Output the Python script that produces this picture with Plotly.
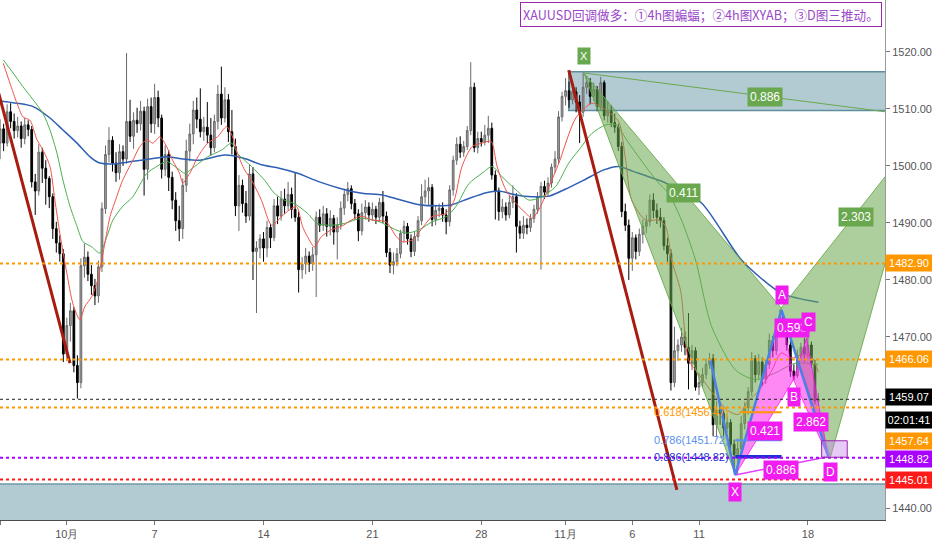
import plotly.graph_objects as go

# 4h bars per trading session (the Sunday evening session has one bar)
sessions = [
    ("09-26", 6), ("09-27", 6), ("09-29", 1), ("09-30", 6),
    ("10-01", 6), ("10-02", 6), ("10-03", 6), ("10-04", 6), ("10-06", 1),
    ("10-07", 6), ("10-08", 6), ("10-09", 6), ("10-10", 6), ("10-11", 6), ("10-13", 1),
    ("10-14", 6), ("10-15", 6), ("10-16", 6), ("10-17", 6), ("10-18", 6), ("10-20", 1),
    ("10-21", 6), ("10-22", 6), ("10-23", 6), ("10-24", 6), ("10-25", 6), ("10-27", 1),
    ("10-28", 6), ("10-29", 6), ("10-30", 6), ("10-31", 6), ("11-01", 6), ("11-03", 1),
    ("11-04", 6), ("11-05", 6), ("11-06", 6), ("11-07", 6), ("11-08", 6), ("11-10", 1),
    ("11-11", 6), ("11-12", 6), ("11-13", 6), ("11-14", 6), ("11-15", 6), ("11-17", 1),
    ("11-18", 4),
]

tick_days = ["09-26", "10-01", "10-07", "10-14", "10-21", "10-28", "11-01", "11-06", "11-11", "11-18"]
tick_text = ["26", "10月", "7", "14", "21", "28", "11月", "6", "11", "18"]

opens = [
    1504.0, 1506.5, 1504.0, 1509.5, 1507.8, 1506.2,
    1507.0, 1504.8, 1507.2, 1506.4, 1497.2, 1495.6,
    1502.4,
    1499.6, 1497.8, 1494.6, 1489.0, 1486.5, 1484.6,
    1467.0, 1472.0, 1474.6, 1465.0, 1462.0, 1482.5,
    1484.0, 1481.0, 1479.0, 1477.2, 1482.3, 1492.5,
    1502.0, 1504.5, 1500.5, 1498.8, 1502.5, 1501.2,
    1507.8, 1505.2, 1508.0, 1507.4, 1509.6, 1499.4,
    1510.4,
    1507.4, 1512.0, 1508.4, 1499.4, 1502.0, 1498.0,
    1494.0, 1490.4, 1489.0, 1496.6, 1502.6, 1505.6,
    1509.8, 1508.2, 1506.0, 1506.8, 1505.4, 1503.2,
    1507.8, 1512.6, 1508.4, 1511.6, 1506.0, 1503.4,
    1493.0, 1496.6, 1493.4, 1491.2, 1498.6, 1485.0,
    1485.6,
    1487.2, 1485.6, 1489.2, 1487.4, 1493.0, 1491.2,
    1494.2, 1493.0, 1495.0, 1492.4, 1491.0, 1481.8,
    1482.8, 1484.2, 1482.8, 1484.4, 1491.0, 1489.6,
    1491.6, 1489.4, 1490.8, 1488.4, 1489.6, 1492.6,
    1495.0, 1496.0, 1493.4, 1491.6, 1488.6, 1491.8,
    1492.8,
    1491.4, 1492.4, 1491.0, 1493.6, 1491.2, 1484.8,
    1482.6, 1483.2, 1484.6, 1488.2, 1489.4, 1487.2,
    1485.0, 1487.6, 1490.4, 1494.6, 1495.6, 1496.2,
    1490.6, 1492.2, 1492.6, 1491.4, 1490.2, 1495.8,
    1501.0, 1503.8, 1502.4, 1503.4, 1506.2, 1513.8,
    1503.2,
    1504.8, 1504.2, 1505.4, 1506.6, 1498.4, 1495.6,
    1492.0, 1492.8, 1491.4, 1493.6, 1494.6, 1489.4,
    1488.2, 1489.6, 1489.2, 1490.8, 1492.4, 1494.6,
    1496.4, 1495.4, 1497.0, 1499.8, 1501.2, 1508.6,
    1512.2, 1513.2, 1511.6, 1513.0, 1511.2, 1509.4,
    1513.8,
    1514.6, 1512.2, 1513.4, 1510.4, 1514.6, 1508.8,
    1509.6, 1507.6, 1506.8, 1503.4, 1492.0, 1489.6,
    1483.8, 1487.4, 1485.0, 1488.0, 1489.4, 1490.2,
    1494.0, 1492.2, 1491.0, 1490.4, 1486.0, 1484.6,
    1462.0, 1467.6, 1468.6, 1470.0, 1468.2, 1465.4,
    1467.6,
    1461.2, 1462.0, 1463.4, 1465.2, 1466.2, 1454.6,
    1457.2, 1456.6, 1454.0, 1455.0, 1451.2, 1449.4,
    1450.4, 1454.8, 1457.6, 1460.4, 1466.2, 1463.4,
    1465.6, 1462.6, 1465.2, 1469.4, 1467.6, 1472.2,
    1473.6, 1471.0, 1468.6, 1464.0, 1463.2, 1466.8,
    1468.2,
    1467.0, 1468.6, 1465.2, 1458.8,
]

highs = [
    1508.2, 1507.4, 1510.8, 1511.0, 1509.2, 1508.6,
    1507.8, 1508.4, 1508.0, 1507.0, 1498.6, 1503.8,
    1503.2,
    1501.0, 1498.2, 1495.2, 1490.2, 1487.8, 1485.4,
    1473.4, 1476.0, 1475.2, 1466.8, 1483.8, 1486.4,
    1485.0, 1482.6, 1480.2, 1483.4, 1493.6, 1503.6,
    1506.8, 1505.2, 1502.4, 1503.8, 1503.6, 1519.8,
    1511.6, 1509.4, 1510.2, 1511.4, 1510.4, 1511.8,
    1512.0,
    1514.4, 1513.2, 1509.0, 1503.6, 1502.8, 1499.0,
    1495.4, 1493.0, 1497.8, 1504.6, 1507.4, 1511.4,
    1512.0, 1513.6, 1508.6, 1511.2, 1508.4, 1509.0,
    1514.2, 1517.4, 1513.8, 1512.6, 1509.8, 1504.8,
    1498.4, 1497.6, 1495.6, 1500.2, 1499.8, 1486.8,
    1488.0,
    1488.4, 1490.4, 1489.8, 1494.2, 1494.6, 1495.6,
    1496.0, 1497.2, 1496.2, 1498.8, 1492.0, 1484.0,
    1485.6, 1485.0, 1485.8, 1492.0, 1492.4, 1493.0,
    1492.6, 1492.2, 1491.4, 1491.0, 1493.8, 1496.0,
    1497.2, 1496.6, 1494.2, 1492.4, 1493.4, 1494.0,
    1493.6,
    1493.6, 1493.0, 1494.4, 1495.6, 1492.0, 1485.6,
    1484.8, 1485.6, 1488.8, 1490.4, 1490.0, 1488.0,
    1488.4, 1491.2, 1496.8, 1497.6, 1498.0, 1496.8,
    1493.2, 1493.4, 1493.6, 1492.4, 1496.6, 1501.8,
    1505.0, 1505.2, 1504.4, 1507.0, 1518.2, 1514.6,
    1506.0,
    1506.0, 1507.2, 1508.8, 1507.6, 1499.2, 1496.2,
    1494.2, 1493.6, 1494.8, 1496.6, 1495.2, 1490.4,
    1491.2, 1490.8, 1491.6, 1493.2, 1495.4, 1497.2,
    1497.4, 1498.0, 1500.4, 1502.6, 1509.6, 1513.0,
    1515.4, 1514.8, 1514.2, 1513.8, 1512.4, 1516.4,
    1515.8,
    1515.4, 1514.6, 1514.0, 1515.6, 1515.0, 1511.4,
    1510.6, 1509.2, 1507.4, 1504.2, 1493.4, 1490.6,
    1488.4, 1488.0, 1489.0, 1490.6, 1491.4, 1495.0,
    1495.2, 1493.4, 1492.6, 1491.0, 1487.4, 1485.4,
    1471.8, 1469.6, 1471.6, 1471.0, 1474.2, 1468.6,
    1468.2,
    1463.6, 1464.6, 1466.2, 1467.2, 1467.0, 1458.8,
    1458.6, 1457.4, 1456.4, 1455.6, 1452.0, 1452.2,
    1456.2, 1458.6, 1461.2, 1467.4, 1466.8, 1467.0,
    1466.4, 1466.0, 1470.6, 1470.2, 1473.2, 1474.8,
    1474.2, 1472.0, 1469.4, 1465.2, 1467.8, 1469.0,
    1469.8,
    1470.0, 1469.2, 1466.0, 1460.2,
]

lows = [
    1501.2, 1502.6, 1503.4, 1506.6, 1504.8, 1505.0,
    1503.2, 1503.8, 1505.2, 1496.2, 1491.4, 1494.8,
    1497.0,
    1493.2, 1492.6, 1487.2, 1484.8, 1483.2, 1465.6,
    1465.8, 1469.2, 1463.8, 1459.2, 1461.0, 1480.4,
    1479.8, 1477.4, 1475.6, 1476.0, 1481.4, 1491.6,
    1500.6, 1499.0, 1497.2, 1497.6, 1500.0, 1500.4,
    1504.2, 1503.0, 1505.8, 1506.2, 1494.8, 1497.6,
    1505.8,
    1505.6, 1506.8, 1497.8, 1498.2, 1495.6, 1492.4,
    1488.6, 1486.8, 1487.2, 1495.4, 1500.8, 1503.8,
    1506.6, 1505.0, 1504.4, 1504.0, 1501.8, 1502.4,
    1506.4, 1507.2, 1507.6, 1504.2, 1502.0, 1491.2,
    1488.6, 1491.8, 1490.0, 1490.4, 1480.0, 1474.2,
    1483.8,
    1483.2, 1484.0, 1485.6, 1486.8, 1489.8, 1490.4,
    1491.6, 1492.2, 1490.8, 1490.2, 1477.8, 1480.2,
    1481.0, 1481.4, 1481.6, 1477.0, 1488.4, 1488.6,
    1487.6, 1487.8, 1486.2, 1483.6, 1488.8, 1491.4,
    1493.8, 1492.4, 1490.6, 1486.8, 1487.8, 1490.6,
    1490.2,
    1490.4, 1489.8, 1490.2, 1490.0, 1484.0, 1481.2,
    1481.0, 1482.4, 1483.8, 1486.6, 1486.2, 1484.0,
    1484.2, 1486.8, 1489.6, 1493.4, 1493.0, 1489.4,
    1489.6, 1491.0, 1490.2, 1488.0, 1489.4, 1494.8,
    1500.2, 1501.4, 1501.6, 1502.8, 1505.4, 1502.4,
    1502.2,
    1503.4, 1503.6, 1504.0, 1497.6, 1490.6, 1490.4,
    1490.8, 1490.4, 1490.8, 1492.6, 1484.8, 1487.2,
    1487.2, 1488.0, 1488.4, 1490.0, 1491.6, 1481.8,
    1494.2, 1494.6, 1496.2, 1498.8, 1500.4, 1507.8,
    1510.6, 1510.2, 1510.8, 1509.4, 1504.0, 1508.6,
    1512.6,
    1510.8, 1511.4, 1509.6, 1509.8, 1508.0, 1507.6,
    1506.8, 1505.8, 1502.6, 1491.0, 1488.6, 1480.0,
    1481.6, 1483.6, 1484.2, 1486.4, 1488.2, 1489.4,
    1490.8, 1489.8, 1489.2, 1485.2, 1483.2, 1460.6,
    1461.2, 1465.8, 1467.4, 1466.8, 1460.8, 1464.2,
    1460.6,
    1459.8, 1461.2, 1462.6, 1464.4, 1452.6, 1452.4,
    1454.6, 1452.6, 1453.2, 1450.4, 1446.4, 1446.0,
    1449.6, 1453.8, 1456.4, 1459.6, 1462.0, 1462.6,
    1461.4, 1461.8, 1464.4, 1466.4, 1466.8, 1471.0,
    1470.2, 1467.6, 1463.0, 1462.4, 1462.8, 1465.8,
    1465.6,
    1466.2, 1464.6, 1458.2, 1457.8,
]

closes = [
    1506.5, 1504.0, 1509.5, 1507.8, 1506.2, 1507.0,
    1504.8, 1507.2, 1506.4, 1497.2, 1495.6, 1502.4,
    1499.6,
    1497.8, 1494.6, 1489.0, 1486.5, 1484.6, 1467.0,
    1472.0, 1474.6, 1465.0, 1462.0, 1482.5, 1484.0,
    1481.0, 1479.0, 1477.2, 1482.3, 1492.5, 1502.0,
    1504.5, 1500.5, 1498.8, 1502.5, 1501.2, 1507.8,
    1505.2, 1508.0, 1507.4, 1509.6, 1499.4, 1510.4,
    1507.4,
    1512.0, 1508.4, 1499.4, 1502.0, 1498.0, 1494.0,
    1490.4, 1489.0, 1496.6, 1502.6, 1505.6, 1509.8,
    1508.2, 1506.0, 1506.8, 1505.4, 1503.2, 1507.8,
    1512.6, 1508.4, 1511.6, 1506.0, 1503.4, 1493.0,
    1496.6, 1493.4, 1491.2, 1498.6, 1485.0, 1485.6,
    1487.2,
    1485.6, 1489.2, 1487.4, 1493.0, 1491.2, 1494.2,
    1493.0, 1495.0, 1492.4, 1491.0, 1481.8, 1482.8,
    1484.2, 1482.8, 1484.4, 1491.0, 1489.6, 1491.6,
    1489.4, 1490.8, 1488.4, 1489.6, 1492.6, 1495.0,
    1496.0, 1493.4, 1491.6, 1488.6, 1491.8, 1492.8,
    1491.4,
    1492.4, 1491.0, 1493.6, 1491.2, 1484.8, 1482.6,
    1483.2, 1484.6, 1488.2, 1489.4, 1487.2, 1485.0,
    1487.6, 1490.4, 1494.6, 1495.6, 1496.2, 1490.6,
    1492.2, 1492.6, 1491.4, 1490.2, 1495.8, 1501.0,
    1503.8, 1502.4, 1503.4, 1506.2, 1513.8, 1503.2,
    1504.8,
    1504.2, 1505.4, 1506.6, 1498.4, 1495.6, 1492.0,
    1492.8, 1491.4, 1493.6, 1494.6, 1489.4, 1488.2,
    1489.6, 1489.2, 1490.8, 1492.4, 1494.6, 1496.4,
    1495.4, 1497.0, 1499.8, 1501.2, 1508.6, 1512.2,
    1513.2, 1511.6, 1513.0, 1511.2, 1509.4, 1513.8,
    1514.6,
    1512.2, 1513.4, 1510.4, 1514.6, 1508.8, 1509.6,
    1507.6, 1506.8, 1503.4, 1492.0, 1489.6, 1483.8,
    1487.4, 1485.0, 1488.0, 1489.4, 1490.2, 1494.0,
    1492.2, 1491.0, 1490.4, 1486.0, 1484.6, 1462.0,
    1467.6, 1468.6, 1470.0, 1468.2, 1465.4, 1467.6,
    1461.2,
    1462.0, 1463.4, 1465.2, 1466.2, 1454.6, 1457.2,
    1456.6, 1454.0, 1455.0, 1451.2, 1449.4, 1450.4,
    1454.8, 1457.6, 1460.4, 1466.2, 1463.4, 1465.6,
    1462.6, 1465.2, 1469.4, 1467.6, 1472.2, 1473.6,
    1471.0, 1468.6, 1464.0, 1463.2, 1466.8, 1468.2,
    1467.0,
    1468.6, 1465.2, 1458.8, 1459.07,
]

# moving averages (bar index, price)
red_x = [0.9, 2.8, 4.8, 6.5, 8.5, 10.5, 12.2, 14.2, 15.6, 17.0,
         19.0, 20.7, 22.7, 24.1, 26.1, 27.8, 29.3, 31.3, 33.2, 34.9,
         37.8, 39.8, 41.8, 43.5, 45.5, 47.4, 49.1, 51.1, 52.0, 54.0,
         56.3, 59.1, 61.9, 64.5, 66.2, 67.6, 69.6, 71.6, 74.4, 77.3,
         80.1, 82.4, 84.4, 86.1, 87.5, 89.5, 91.5, 94.3, 97.2, 100.0,
         102.8, 106.0, 109.9, 112.8, 114.5, 117.3, 120.2, 123.0, 127.0, 129.3,
         131.5, 134.4, 137.2, 139.8, 141.5, 144.0, 146.9, 149.7, 151.4, 153.4,
         156.3, 159.1, 163.9, 168.5, 172.4, 176.1, 178.1, 179.8, 183.8, 187.5,
         189.5, 191.2, 193.8, 196.0, 198.9, 203.7, 207.4, 210.2, 213.1, 215.9,
         219.6, 222.4, 225.3, 228.1, 231.0, 233.0]
red_y = [1518.0, 1514.5, 1511.0, 1508.6, 1508.0, 1504.6, 1502.8, 1499.9, 1494.0, 1488.2,
         1481.2, 1475.9, 1473.0, 1475.3, 1477.1, 1480.0, 1484.7, 1491.1, 1494.6, 1497.5,
         1501.0, 1503.4, 1504.6, 1504.0, 1505.1, 1503.4, 1501.0, 1498.7, 1497.0, 1498.7,
         1501.6, 1504.0, 1505.1, 1506.9, 1505.1, 1502.2, 1499.3, 1497.5, 1494.0, 1489.6,
         1491.1, 1492.3, 1492.9, 1489.4, 1487.6, 1485.8, 1487.6, 1488.8, 1489.4, 1490.5,
         1491.2, 1490.5, 1490.2, 1487.6, 1486.7, 1487.0, 1489.1, 1491.1, 1491.7, 1494.0,
         1499.9, 1503.4, 1504.0, 1504.3, 1499.9, 1495.8, 1493.4, 1491.7, 1490.8, 1492.3,
         1496.4, 1500.5, 1508.4, 1511.0, 1509.8, 1507.8, 1501.0, 1494.0, 1490.5, 1490.5,
         1489.4, 1483.5, 1478.0, 1466.0, 1463.5, 1459.5, 1457.0, 1456.4, 1458.8, 1460.5,
         1464.0, 1467.2, 1466.3, 1466.8, 1466.5, 1463.8]

green_x = [0.9, 3.7, 6.5, 9.4, 12.2, 14.2, 16.2, 17.9, 19.9, 21.9,
           23.6, 26.1, 28.4, 30.4, 32.1, 34.9, 37.8, 41.8, 44.6, 47.4,
           49.1, 51.1, 52.6, 55.4, 59.1, 63.1, 65.9, 67.6, 71.6, 75.3,
           78.1, 81.0, 83.8, 87.5, 90.3, 94.3, 98.0, 102.8, 108.0, 111.6,
           115.6, 119.3, 123.0, 127.0, 129.8, 133.5, 137.2, 140.1, 142.9, 146.9,
           150.6, 154.3, 158.2, 161.9, 164.8, 168.5, 172.4, 175.3, 179.0, 183.8,
           187.5, 190.3, 194.0, 198.0, 202.6, 209.4, 215.1, 220.7, 226.4, 233.0]
green_y = [1518.6, 1516.3, 1513.9, 1511.6, 1509.2, 1506.3, 1502.2, 1497.5, 1492.9, 1489.4,
           1486.7, 1485.8, 1484.7, 1487.6, 1490.5, 1492.9, 1494.6, 1498.7, 1499.9, 1500.8,
           1500.2, 1499.3, 1498.7, 1499.9, 1501.6, 1502.8, 1504.0, 1502.2, 1499.9, 1497.5,
           1495.2, 1494.0, 1493.4, 1491.7, 1489.9, 1489.6, 1489.9, 1490.8, 1490.2, 1489.1,
           1488.2, 1488.8, 1490.2, 1491.1, 1492.9, 1496.9, 1498.7, 1499.9, 1498.1, 1495.8,
           1494.0, 1494.6, 1496.4, 1500.5, 1502.8, 1505.7, 1507.2, 1507.2, 1504.0, 1499.9,
           1497.0, 1495.2, 1490.5, 1483.5, 1471.8, 1464.2, 1462.5, 1463.7, 1465.4, 1465.2]

blue_x = [0, 4.8, 9.4, 14.2, 17.9, 21.9, 25.6, 28.4, 33.2, 37.8,
          42.6, 47.4, 51.1, 56.8, 63.9, 69.6, 74.4, 79.5, 84.7, 90.9,
          96.6, 103.1, 108.8, 113.6, 119.3, 125.0, 128.7, 133.5, 138.4, 142.0,
          146.9, 151.4, 156.3, 161.9, 166.2, 171.9, 176.1, 180.4, 184.7, 189.5,
          199.7, 211.1, 222.4, 233.0]
blue_y = [1511.4, 1511.0, 1510.4, 1508.4, 1506.3, 1504.0, 1501.6, 1500.5, 1500.4, 1500.8,
          1501.2, 1501.6, 1501.3, 1501.0, 1501.9, 1501.3, 1500.2, 1499.6, 1498.7, 1497.2,
          1496.1, 1495.2, 1494.9, 1494.1, 1493.2, 1493.0, 1493.2, 1494.3, 1495.3, 1495.6,
          1494.9, 1494.6, 1494.7, 1496.2, 1497.5, 1499.3, 1499.9, 1499.0, 1498.1, 1497.0,
          1493.5, 1483.5, 1477.7, 1476.1]

# green harmonic drawing: X, A, B, C, D
g_pts_x = [166.2, 209.4, 222.4, 262.8, 236.4]
g_pts_y = [1516.3, 1445.8, 1475.1, 1506.5, 1448.9]

# bat pattern: X, A, B, C, D and the leg before X
b_pts_x = [209.3, 222.5, 225.9, 229.6, 235.8]
b_pts_y = [1445.8, 1474.7, 1462.5, 1469.8, 1449.0]
leg0 = (202.2, 1466.0)

last_price = 1459.07
levels = [1482.90, 1466.06, 1457.64, 1448.82, 1445.01]
level_colors = ["#ff9800", "#ff9800", "#ff9800", "#aa00ff", "#ff1a1a"]

bar = list(range(len(closes)))
assert len(opens) == len(highs) == len(lows) == len(closes) == sum(n for _, n in sessions)

start = {}
i = 0
for d, n in sessions:
    start[d] = i
    i += n
tick_vals = [start[d] for d in tick_days]

fig = go.Figure()

fig.add_trace(go.Candlestick(
    x=bar, open=opens, high=highs, low=lows, close=closes,
    increasing=dict(line=dict(color="#6a6a6a", width=1), fillcolor="#a0a0a0"),
    decreasing=dict(line=dict(color="#000000", width=1), fillcolor="#000000"),
    whiskerwidth=0, hoverinfo="skip", showlegend=False,
))

for xs, ys, col, w in [(blue_x, blue_y, "#2f5fb3", 1.5),
                       (green_x, green_y, "#4caf50", 1),
                       (red_x, red_y, "#f0524a", 1)]:
    fig.add_trace(go.Scatter(x=xs, y=ys, mode="lines", showlegend=False, hoverinfo="skip",
                             line=dict(color=col, width=w, shape="spline", smoothing=0.7)))

# green XABCD fill
gX, gA, gB, gC, gD = list(zip(g_pts_x, g_pts_y))
for tri in [(gX, gA, gB), (gB, gC, gD)]:
    fig.add_trace(go.Scatter(
        x=[p[0] for p in tri] + [tri[0][0]], y=[p[1] for p in tri] + [tri[0][1]],
        mode="lines", fill="toself", fillcolor="rgba(106,168,79,0.55)",
        line=dict(color="rgba(106,168,79,0.9)", width=1), showlegend=False, hoverinfo="skip"))
fig.add_trace(go.Scatter(x=[gX[0], 252], y=[gX[1], 1509.5], mode="lines",
                         line=dict(color="#6aa84f", width=1), showlegend=False, hoverinfo="skip"))

# bat pattern fill
bX, bA, bB, bC, bD = list(zip(b_pts_x, b_pts_y))
for tri in [(bX, bA, bB), (bB, bC, bD)]:
    fig.add_trace(go.Scatter(
        x=[p[0] for p in tri] + [tri[0][0]], y=[p[1] for p in tri] + [tri[0][1]],
        mode="lines", fill="toself", fillcolor="rgba(255,40,235,0.55)",
        line=dict(color="rgba(255,0,255,0.7)", width=1), showlegend=False, hoverinfo="skip"))
fig.add_trace(go.Scatter(x=[bX[0], bD[0]], y=[bX[1], bD[1]], mode="lines",
                         line=dict(color="#e040fb", width=1.5), showlegend=False, hoverinfo="skip"))
fig.add_trace(go.Scatter(x=[leg0[0], bX[0], bA[0], bD[0]], y=[leg0[1], bX[1], bA[1], bD[1]],
                         mode="lines", line=dict(color="#4a80e8", width=2.5),
                         showlegend=False, hoverinfo="skip"))

# fib levels of the bat
fibs = [(1456.8, "#ff9800", "0.618(1456.47)", 2), (1451.9, "#5b8ff0", "0.786(1451.72)", 2),
        (1449.0, "#1f2fd6", "0.886(1448.82)", 3.5)]
for fy, fc, ft, fw in fibs:
    fig.add_trace(go.Scatter(x=[210.5 if fc == "#ff9800" else bX[0], bA[0]], y=[fy, fy],
                             mode="lines", line=dict(color=fc, width=fw),
                             showlegend=False, hoverinfo="skip"))

shapes = []
# supply / demand boxes
shapes.append(dict(type="rect", xref="x", yref="y", x0=161.9, x1=260, y0=1509.7, y1=1516.5,
                   fillcolor="rgba(84,139,158,0.45)", line=dict(color="#5f8f9c", width=1.5),
                   layer="below"))
shapes.append(dict(type="rect", xref="x", yref="y", x0=-5, x1=260, y0=1430, y1=1444.2,
                   fillcolor="rgba(84,139,158,0.45)", line=dict(color="#6f9aa6", width=1.5),
                   layer="below"))
# trend lines
shapes.append(dict(type="line", xref="x", yref="y", x0=-0.5, y0=1513.0, x1=19.9, y1=1465.4,
                   line=dict(color="#a81c10", width=3)))
shapes.append(dict(type="line", xref="x", yref="y", x0=161.9, y0=1516.8, x1=192.7, y1=1443.2,
                   line=dict(color="#a81c10", width=3)))
# horizontal levels
for lv, lc in zip(levels, level_colors):
    shapes.append(dict(type="line", xref="paper", yref="y", x0=0, x1=1, y0=lv, y1=lv,
                       line=dict(color=lc, width=2, dash="dot")))
shapes.append(dict(type="line", xref="paper", yref="y", x0=0, x1=1, y0=last_price, y1=last_price,
                   line=dict(color="#222222", width=1, dash="dot")))
# target box near D
shapes.append(dict(type="rect", xref="x", yref="y", x0=233.9, x1=241.2, y0=1448.9, y1=1451.8,
                   fillcolor="rgba(200,140,235,0.45)", line=dict(color="#9c27b0", width=1)))

ann = []


def tag(x, y, text, bg, size=12):
    ann.append(dict(x=x, y=y, xref="x", yref="y", text=text, showarrow=False,
                    bgcolor=bg, borderpad=2, font=dict(color="white", size=size,
                                                       family="Liberation Sans")))


# green pattern labels
tag(gX[0], 1519.2, "X", "#6aa84f", 11)
tag(194.6, 1495.3, "0.411", "#6aa84f")
tag(243.8, 1491.1, "2.303", "#6aa84f")
tag(217.9, 1512.1, "0.886", "#6aa84f")

# bat labels
tag(217.9, 1453.5, "0.421", "#f01cf0")
tag(231.0, 1455.1, "2.862", "#f01cf0")
tag(222.4, 1446.7, "0.886", "#f01cf0")
tag(225.6, 1471.6, "0.593", "#f01cf0")
tag(bX[0], 1442.8, "X", "#f01cf0")
tag(bA[0], 1477.4, "A", "#f01cf0")
tag(bB[0], 1459.5, "B", "#f01cf0")
tag(230.1, 1472.6, "C", "#f01cf0")
tag(236.4, 1446.3, "D", "#f01cf0")

for fy, fc, ft, fw in fibs:
    ann.append(dict(x=208.2, y=fy, xref="x", yref="y", text=ft, showarrow=False,
                    xanchor="right", font=dict(color=fc, size=11, family="Liberation Sans")))

# price scale labels
scale_tags = [(1482.90, "1482.90", "#ff9800"), (1466.06, "1466.06", "#ff9800"),
              (1459.5, "1459.07", "#000000"), (1455.4, "02:01:41", "#000000"),
              (1451.8, "1457.64", "#ff9800"), (1448.6, "1448.82", "#aa00ff"),
              (1444.9, "1445.01", "#ff1a1a")]
for sy, st, sc in scale_tags:
    ann.append(dict(x=1, y=sy, xref="paper", yref="y", text=st, showarrow=False,
                    xanchor="left", bgcolor=sc, borderpad=2, width=42,
                    font=dict(color="white", size=11, family="Liberation Sans")))

# headline
ann.append(dict(x=1.0, y=0.996, xref="paper", yref="paper", xanchor="right", yanchor="top",
                xshift=-3,
                text="XAUUSD回调做多：①4h图蝙蝠；②4h图XYAB；③D图三推动。",
                showarrow=False, bgcolor="white", bordercolor="#9c27b0", borderwidth=1,
                borderpad=2, font=dict(color="#9a48c8", size=12.6, family="Noto Sans CJK SC")))

fig.update_layout(
    width=932, height=550,
    margin=dict(l=0, r=45, t=0, b=30),
    plot_bgcolor="white", paper_bgcolor="white",
    showlegend=False,
    shapes=shapes, annotations=ann,
    xaxis=dict(range=[-0.03, 251.95], tickvals=tick_vals, ticktext=tick_text,
               showgrid=False, zeroline=False, showline=True, linecolor="#4a4a4a", linewidth=1,
               ticks="outside", ticklen=4, tickcolor="#777",
               tickfont=dict(size=11, color="#555", family="Liberation Sans"),
               rangeslider=dict(visible=False), fixedrange=True),
    yaxis=dict(side="right", range=[1437.9, 1529.1],
               tickvals=[1440, 1470, 1480, 1490, 1500, 1510, 1520],
               ticktext=["1440.00", "1470.00", "1480.00", "1490.00", "1500.00", "1510.00", "1520.00"],
               showgrid=False, zeroline=False, showline=True, linecolor="#9a9a9a",
               ticks="outside", ticklen=4, tickcolor="#777",
               tickfont=dict(size=11, color="#555", family="Liberation Sans")),
)

fig.write_html("out.html", config={"displayModeBar": False},
               post_script="document.body.style.margin='0px';")
